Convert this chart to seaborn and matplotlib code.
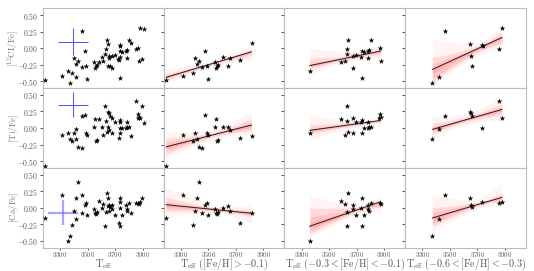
import numpy as np
import pandas as pd
import matplotlib
matplotlib.use("Agg")
import matplotlib.pyplot as plt
import seaborn as sns
from matplotlib.ticker import FuncFormatter, FixedLocator

nan = np.nan

# ---- data: [Fe/H] > -0.1 group ----
teff_hi = [3191, 3316, 3385, 3404, 3414, 3433, 3457, 3479, 3489, 3494,
           3547, 3556, 3561, 3571, 3603, 3646, 3658, 3731, 3814]
c_hi = [-0.475, -0.42, -0.365, -0.15, -0.24, -0.185, -0.275, -0.04, -0.265, -0.46,
        -0.205, -0.29, -0.27, -0.255, -0.135, -0.26, -0.15, -0.175, 0.075]
ti_hi = [-0.57, -0.11, -0.19, -0.07, -0.165, -0.28, -0.295, 0.2, -0.08, -0.105,
         0.01, 0.13, -0.195, -0.18, 0.02, 0.02, -0.03, -0.155, -0.125]
ca_hi = [-0.15, 0.19, -0.26, -0.05, 0.14, 0.39, -0.075, 0.035, 0.07, -0.11,
         -0.013, -0.075, -0.09, -0.065, 0.0, 0.02, -0.05, -0.225, -0.075]

# ---- data: -0.3 < [Fe/H] < -0.1 group ----
teff_mid = [3358, 3583, 3614, 3632, 3630, 3639, 3675, 3677, 3699, 3736,
            3734, 3738, 3753, 3782, 3785, 3789, 3801, 3869, 3874, 3864]
c_mid = [-0.335, -0.2, -0.185, -0.015, -0.085, 0.12, -0.115, -0.3, -0.1, -0.035,
         -0.135, -0.45, -0.05, -0.045, -0.15, -0.025, 0.12, 0.0, -0.19, nan]
ti_mid = [-0.07, 0.13, -0.105, 0.105, 0.33, -0.055, 0.155, -0.07, 0.095, 0.12,
          0.095, -0.07, 0.005, 0.005, 0.095, 0.02, 0.02, 0.21, 0.17, 0.145]
ca_mid = [-0.50, 0.105, 0.055, -0.06, -0.27, 0.225, -0.015, 0.04, -0.115, 0.15,
          0.0, -0.27, -0.105, 0.04, -0.02, -0.05, 0.07, 0.07, 0.05, nan]

# ---- data: -0.6 < [Fe/H] < -0.3 group ----
teff_lo = [3372, 3418, 3462, 3649, 3656, 3661, 3734, 3738, 3854, 3879]
c_lo = [-0.525, -0.425, 0.265, 0.06, -0.115, -0.27, 0.05, 0.04, -0.01, 0.305]
ti_lo = [-0.165, -0.02, 0.18, 0.245, 0.23, 0.18, -0.005, nan, 0.405, 0.145]
ca_lo = [-0.42, -0.17, 0.19, 0.14, 0.04, 0.015, 0.09, nan, 0.065, 0.09]

# ---- stars outside the three [Fe/H] bins (only in first column) ----
teff_other = [3723, 3894, 3910]
c_other = [-0.165, -0.155, 0.285]
ti_other = [nan, 0.33, 0.07]
ca_other = [nan, 0.14, nan]

# typical uncertainty crosses (first column)
err_teff = [3394, 3394, 3324]
err_val = [0.10, 0.35, -0.075]
err_xerr = [108, 108, 109]
err_yerr = [0.20, 0.19, 0.19]

elements = ["C", "Ti", "Ca"]
ylabels = [r"$[^{12}\mathrm{CI/Fe}]$", r"$[\mathrm{Ti/Fe}]$", r"$[\mathrm{Ca/Fe}]$"]
groups = ["all", "hi", "mid", "lo"]
xlabels = [r"T$_{\rm eff}$",
           r"T$_{\rm eff}$ ($[{\rm Fe/H}] > -0.1$)",
           r"T$_{\rm eff}$ ($-0.3 < [{\rm Fe/H}] < -0.1$)",
           r"T$_{\rm eff}$ ($-0.6 < [{\rm Fe/H}] < -0.3$)"]
xticks = [3300, 3500, 3700, 3900]
yticks = [-0.5, -0.25, 0.0, 0.25, 0.5]

frames = []
for grp, teff, vals in [("hi", teff_hi, [c_hi, ti_hi, ca_hi]),
                        ("mid", teff_mid, [c_mid, ti_mid, ca_mid]),
                        ("lo", teff_lo, [c_lo, ti_lo, ca_lo]),
                        ("other", teff_other, [c_other, ti_other, ca_other])]:
    for el, v in zip(elements, vals):
        frames.append(pd.DataFrame({"teff": teff, "value": v, "element": el, "group": grp}))
df = pd.concat(frames, ignore_index=True).dropna()

sns.set_style("ticks")
plt.rcParams.update({
    "font.family": "cmr10",
    "mathtext.fontset": "cm",
    "axes.formatter.use_mathtext": True,
})

fig, axes = plt.subplots(3, 4, figsize=(5.34, 2.71), dpi=100, sharex=True, sharey=True)
fig.subplots_adjust(left=0.0805, right=0.985, top=0.969, bottom=0.0864, wspace=0, hspace=0)

for i, el in enumerate(elements):
    for j, grp in enumerate(groups):
        ax = axes[i, j]
        if grp == "all":
            d = df[df.element == el]
        else:
            d = df[(df.element == el) & (df.group == grp)]
        if grp != "all":
            sns.regplot(data=d, x="teff", y="value", scatter=False, ci=95,
                        color="#ffb4b4", line_kws={"alpha": 0}, seed=0, ax=ax)
            for ci in (68, 45, 25):
                sns.regplot(data=d, x="teff", y="value", scatter=False, ci=ci,
                            color="#ff4a4a", line_kws={"alpha": 0}, seed=0, ax=ax)
            sns.regplot(data=d, x="teff", y="value", scatter=False, ci=None,
                        color="#2b1a1a", line_kws={"lw": 0.7}, ax=ax)
        sns.scatterplot(data=d, x="teff", y="value", marker="*", color="k", s=18,
                        linewidth=0, ax=ax, zorder=3)
        if grp == "all":
            if i < 2:
                ax.errorbar(err_teff[i], err_val[i], xerr=err_xerr[i], yerr=err_yerr[i],
                            color="#4a4aff", lw=0.7, zorder=2)
            else:
                ax.errorbar(err_teff[i], err_val[i], xerr=err_xerr[i], yerr=err_yerr[i],
                            color="#6a6aff", lw=1.6, alpha=0.6, zorder=2)
        ax.set_xlabel("")
        ax.set_ylabel("")
        for sp in ax.spines.values():
            sp.set_color("#bbbbbb")
            sp.set_linewidth(0.8)
        ax.tick_params(axis="both", length=2, width=0.6, color="#333333",
                       labelsize=5.5, labelcolor="#555555", pad=1.2)
        ax.tick_params(axis="x", labelsize=5.0, length=1.5, pad=0.3)

ax0 = axes[0, 0]
ax0.set_xlim(3176, 4053)
ax0.set_ylim(-0.6, 0.6)
ax0.xaxis.set_major_locator(FixedLocator(xticks))
ax0.yaxis.set_major_locator(FixedLocator(yticks))
ax0.yaxis.set_major_formatter(FuncFormatter(lambda v, p: f"${v:.2f}$"))

for i in range(3):
    axes[i, 0].set_ylabel(ylabels[i], fontsize=6.5, color="#777777")
    axes[i, 0].yaxis.set_label_coords(-0.178, 0.5)
for j in range(4):
    axes[2, j].set_xlabel(xlabels[j], fontsize=7.2, color="#555555")
    axes[2, j].xaxis.set_label_coords(0.5, -0.12)

fig.savefig("out.png", dpi=100)
